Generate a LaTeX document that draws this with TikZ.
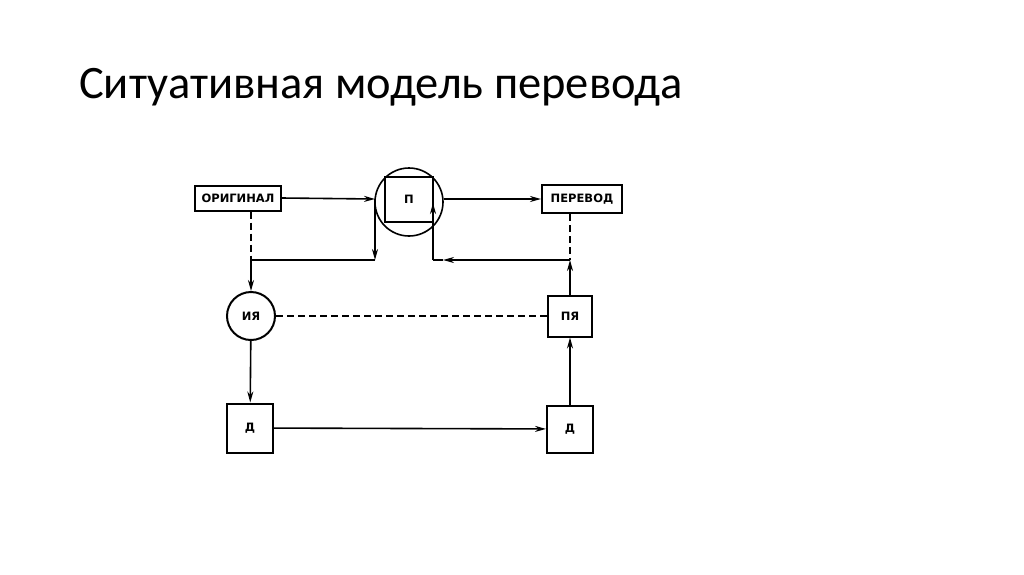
\documentclass[tikz,border=0pt]{standalone}
\usepackage{fontspec}
\setmainfont{Carlito}
\newfontfamily\lblfont{DejaVu Sans}[BoldFont={DejaVu Sans Bold}]
\usetikzlibrary{arrows.meta}

\tikzset{
  blk/.style={draw,line width=2pt,inner sep=0pt,font=\lblfont\bfseries\fontsize{11.5}{11.5}\selectfont},
  rnd/.style={blk,circle},
  lnk/.style={line width=1.6pt},
  dsh/.style={lnk,dash pattern=on 7pt off 4pt}
}

\begin{document}
\begin{tikzpicture}[x=1pt,y=-1pt,>={Stealth[length=11pt,width=6pt]}]
  \useasboundingbox (0,0) rectangle (1024,574);
  % Title
  \node[anchor=base west,inner sep=0pt,font=\fontsize{46.5}{46.5}\selectfont] (title) at (79,98) {Ситуативная модель перевода};
  % Top row
  \node[blk,minimum width=86pt,minimum height=25pt] (orig) at (238,198) {ОРИГИНАЛ};
  \node[circle,draw,line width=1.6pt,minimum size=68pt] (circ) at (409,202) {};
  \node[blk,minimum width=48pt,minimum height=45pt] (p) at (409,199) {П};
  \node[blk,minimum width=80pt,minimum height=28pt] (perevod) at (582,199) {ПЕРЕВОД};
  % Middle and bottom
  \node[rnd,minimum size=48pt] (iya) at (251,316) {ИЯ};
  \node[blk,minimum width=44pt,minimum height=41pt] (pya) at (570,316) {ПЯ};
  \node[blk,minimum width=46pt,minimum height=49pt] (d1) at (250,428) {Д};
  \node[blk,minimum width=46pt,minimum height=47pt] (d2) at (570,429) {Д};
  % Turning points
  \coordinate (a1) at (375,199);
  \coordinate (j1) at (375,260);
  \coordinate (j0) at (251,260);
  \coordinate (b0) at (433,203);
  \coordinate (b1) at (433,260);
  \coordinate (b3) at (443,260);
  \coordinate (b2) at (570,260);
  % Connectors
  \draw[lnk,->] (orig.east) -- (a1);
  \draw[lnk,->] (a1) -- (j1);
  \draw[lnk] (j1) -- (j0);
  \draw[dsh] (orig.south -| j0) -- (j0);
  \draw[lnk,->] (j0) -- (iya);
  \draw[lnk,->] (circ.east |- perevod) -- (perevod.west);
  \draw[dsh] (perevod.south -| b2) -- (b2);
  \draw[lnk,->] (pya) -- (b2);
  \draw[lnk,->] (b2) -- (b3);
  \draw[lnk] (b3) -- (b1);
  \draw[lnk,->] (b1) -- (b0);
  \draw[dsh] (iya) -- (pya);
  \draw[lnk,->] (iya) -- (d1);
  \draw[lnk,->] (d1) -- (d2);
  \draw[lnk,->] (d2) -- (pya);
\end{tikzpicture}
\end{document}
